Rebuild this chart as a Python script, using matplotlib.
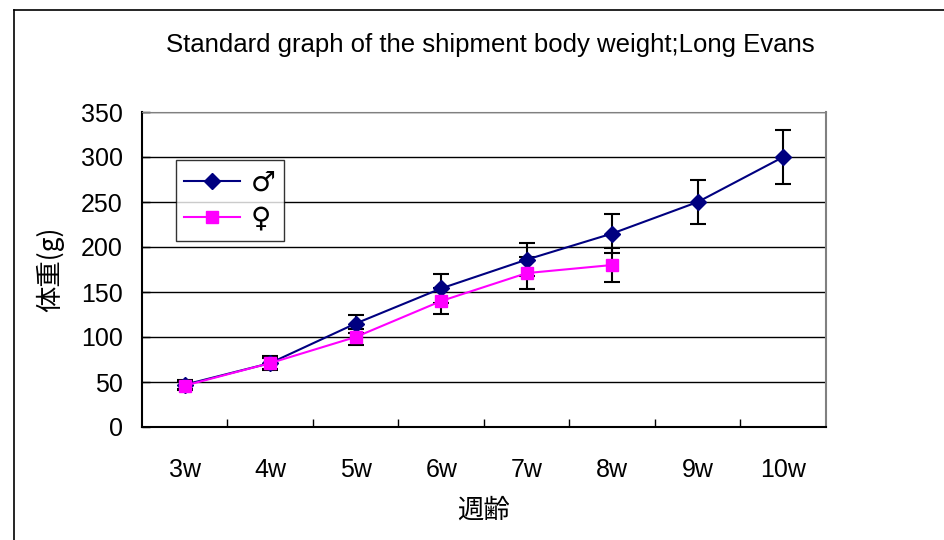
import numpy as np
import matplotlib
matplotlib.use("Agg")
import matplotlib.pyplot as plt
from matplotlib.lines import Line2D

plt.rcParams['font.family'] = ['Liberation Sans', 'Noto Sans CJK JP', 'DejaVu Sans']

# データ
weeks = ['3w', '4w', '5w', '6w', '7w', '8w', '9w', '10w']
male = [47, 71, 115, 154, 186, 215, 250, 300]
male_err = [5, 6, 10, 16, 18, 22, 24, 30]
female = [46, 71, 100, 140, 171, 180]
female_err = [5, 8, 9, 14, 18, 19]

fig = plt.figure(figsize=(9.45, 5.4), dpi=100)
ax = fig.add_axes([142 / 945, 1 - 427 / 540, (826 - 142) / 945, (427 - 112) / 540])

x_m = np.arange(len(male))
x_f = np.arange(len(female))

ax.errorbar(x_m, male, yerr=male_err, fmt='none', ecolor='black',
            elinewidth=1.5, capsize=6, capthick=1.5, zorder=2)
ax.errorbar(x_f, female, yerr=female_err, fmt='none', ecolor='black',
            elinewidth=1.5, capsize=6, capthick=1.5, zorder=2)
ax.plot(x_m, male, color='#000080', marker='D', markersize=8, lw=1.5,
        label='♂', zorder=3)
ax.plot(x_f, female, color='#FF00FF', marker='s', markersize=8, lw=1.5,
        label='♀', zorder=4)

ax.set_xlim(-0.5, len(weeks) - 0.5)
ax.set_ylim(0, 350)
ax.set_yticks(np.arange(0, 351, 50))
ax.set_xticks(x_m)
ax.set_xticklabels(weeks)
ax.set_xticks(np.arange(0.5, len(weeks) - 0.5, 1), minor=True)
ax.tick_params(axis='x', which='major', length=0, pad=22, labelsize=18)
ax.tick_params(axis='x', which='minor', direction='in', length=6, width=1)
ax.tick_params(axis='y', direction='in', length=6, width=1, pad=14, labelsize=18)

ax.yaxis.grid(True, color='black', lw=1)
ax.set_axisbelow(True)
ax.spines['left'].set_color('black')
ax.spines['bottom'].set_color('black')
ax.spines['left'].set_linewidth(1.5)
ax.spines['bottom'].set_linewidth(1.5)
ax.spines['top'].set_color('gray')
ax.spines['right'].set_color('gray')
ax.spines['right'].set_linewidth(1.5)

ax.set_ylabel('体重(g)', fontsize=19, labelpad=12,
              family=['Noto Sans CJK JP', 'DejaVu Sans'])
ax.set_xlabel('週齢', fontsize=19, labelpad=11,
              family=['Noto Sans CJK JP', 'DejaVu Sans'])

fig.text(490 / 945, 1 - 45 / 540, 'Standard graph of the shipment body weight;Long Evans',
         ha='center', va='center', fontsize=18.5)

leg = ax.legend(loc='upper left', bbox_to_anchor=((176 - 142) / 684, (427 - 160) / 315),
                borderaxespad=0, frameon=True, fancybox=False,
                edgecolor='black', borderpad=0.3, handlelength=2.0,
                labelspacing=0.3, handletextpad=0.4,
                prop={'family': ['DejaVu Sans'], 'size': 20})
leg.get_frame().set_linewidth(1)

# 外枠
fig.add_artist(Line2D([14 / 945, 14 / 945], [0, 1 - 10 / 540], color='black', lw=1.2))
fig.add_artist(Line2D([14 / 945, 1], [1 - 10 / 540, 1 - 10 / 540], color='black', lw=1.2))

fig.savefig('out.png', dpi=100)
